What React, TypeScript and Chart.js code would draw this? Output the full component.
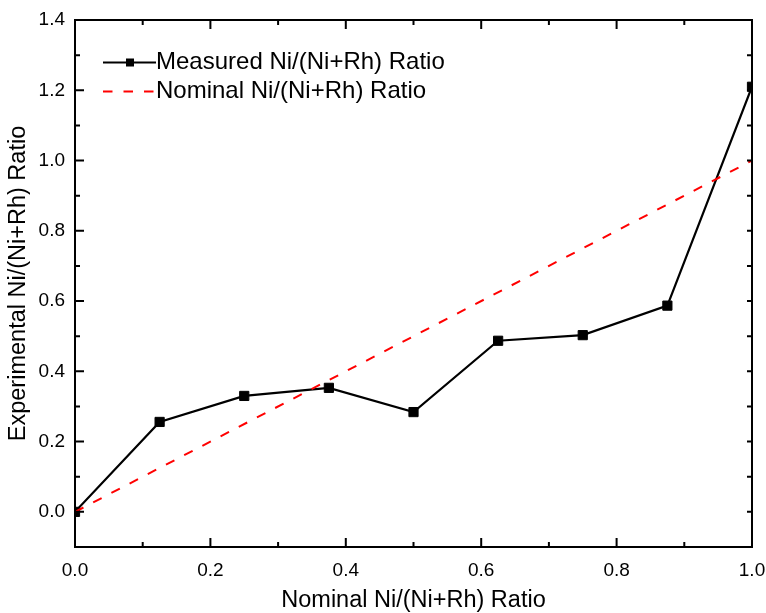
import React, { useEffect, useRef } from "react";
import { Chart, registerables } from "chart.js";

Chart.register(...registerables);

const measuredX = [0, 0.125, 0.25, 0.375, 0.5, 0.625, 0.75, 0.875, 1.0];
const measuredY = [0.0, 0.256, 0.33, 0.353, 0.284, 0.487, 0.503, 0.587, 1.21];
const nominalX = [0, 1];
const nominalY = [0, 1];
const xTickValues = [0, 0.2, 0.4, 0.6, 0.8, 1.0];
const yTickValues = [0, 0.2, 0.4, 0.6, 0.8, 1.0, 1.2, 1.4];
const seriesLabels = ["Measured Ni/(Ni+Rh) Ratio", "Nominal Ni/(Ni+Rh) Ratio"];
const xTitle = "Nominal Ni/(Ni+Rh) Ratio";
const yTitle = "Experimental Ni/(Ni+Rh) Ratio";

const FONT = "'Liberation Sans', Arial, sans-serif";

const framePlugin = {
  id: "frameTicks",
  afterDraw(chart: any) {
    const { ctx, chartArea, scales } = chart;
    const { left, right, top, bottom } = chartArea;
    const xs = scales.x;
    const ys = scales.y;
    ctx.save();
    ctx.strokeStyle = "#000";
    ctx.lineWidth = 2;
    ctx.beginPath();
    for (let i = 0; i <= 10; i++) {
      const px = xs.getPixelForValue(i / 10);
      const len = i % 2 === 0 ? 9 : 5;
      ctx.moveTo(px, bottom);
      ctx.lineTo(px, bottom - len);
      ctx.moveTo(px, top);
      ctx.lineTo(px, top + len);
    }
    for (let i = -1; i <= 14; i++) {
      const py = ys.getPixelForValue(i / 10);
      const len = i % 2 === 0 ? 9 : 5;
      ctx.moveTo(left, py);
      ctx.lineTo(left + len, py);
      ctx.moveTo(right, py);
      ctx.lineTo(right - 5, py);
    }
    ctx.stroke();
    ctx.beginPath();
    ctx.rect(left, top, right - left, bottom - top);
    ctx.stroke();

    // legend
    const x0 = 103;
    const x1 = 156;
    const rows = [62.5, 91.5];
    ctx.lineWidth = 2;
    ctx.strokeStyle = "#000";
    ctx.beginPath();
    ctx.moveTo(x0, rows[0]);
    ctx.lineTo(x1, rows[0]);
    ctx.stroke();
    ctx.fillStyle = "#000";
    ctx.fillRect(126, rows[0] - 4, 8, 8);
    ctx.strokeStyle = "#ff0000";
    ctx.setLineDash([9.5, 11]);
    ctx.beginPath();
    ctx.moveTo(x0, rows[1]);
    ctx.lineTo(x1, rows[1]);
    ctx.stroke();
    ctx.setLineDash([]);
    ctx.fillStyle = "#000";
    ctx.font = `24px ${FONT}`;
    ctx.textBaseline = "middle";
    ctx.textAlign = "left";
    ctx.fillText(seriesLabels[0], 156, rows[0]);
    ctx.fillText(seriesLabels[1], 156, rows[1]);
    ctx.restore();
  },
};

export default function App() {
  const ref = useRef<HTMLCanvasElement | null>(null);
  useEffect(() => {
    document.body.style.margin = "0";
    Chart.defaults.font.family = FONT;
    const canvas = ref.current!;
    const chart = new Chart(canvas, {
      type: "line",
      data: {
        datasets: [
          {
            label: seriesLabels[1],
            data: nominalX.map((x, i) => ({ x, y: nominalY[i] })),
            borderColor: "#ff0000",
            borderWidth: 2,
            borderDash: [9.5, 11],
            pointRadius: 0,
            fill: false,
            order: 0,
          },
          {
            label: seriesLabels[0],
            data: measuredX.map((x, i) => ({ x, y: measuredY[i] })),
            borderColor: "#000",
            backgroundColor: "#000",
            borderWidth: 2.2,
            pointStyle: "rect",
            pointRadius: 6.5,
            pointBorderWidth: 1,
            pointBackgroundColor: "#000",
            pointBorderColor: "#000",
            fill: false,
            order: 1,
          },
        ],
      },
      options: {
        responsive: false,
        animation: false,
        devicePixelRatio: 1,
        layout: { padding: { top: 20, right: 14, left: 0, bottom: 0 } },
        plugins: { legend: { display: false }, tooltip: { enabled: false } },
        scales: {
          x: {
            type: "linear",
            min: 0,
            max: 1,
            grid: { display: false, drawTicks: false },
            border: { display: false },
            afterBuildTicks: (s: any) => {
              s.ticks = xTickValues.map((v) => ({ value: v }));
            },
            afterFit: (s: any) => {
              s.height = 66;
              s.paddingLeft = 0;
              s.paddingRight = 0;
            },
            ticks: {
              padding: 12,
              color: "#000",
              font: { size: 19, family: FONT },
              callback: (v: any) => Number(v).toFixed(1),
              maxRotation: 0,
            },
            title: {
              display: true,
              text: xTitle,
              color: "#000",
              font: { size: 23.5, family: FONT, lineHeight: 1 },
              padding: { top: 0, bottom: 1 },
            },
          },
          y: {
            type: "linear",
            min: -0.1,
            max: 1.4,
            grid: { display: false, drawTicks: false },
            border: { display: false },
            afterBuildTicks: (s: any) => {
              s.ticks = yTickValues.map((v) => ({ value: v }));
            },
            afterFit: (s: any) => {
              s.width = 75;
              s.paddingTop = 0;
              s.paddingBottom = 0;
            },
            ticks: {
              padding: 10,
              color: "#000",
              font: { size: 19, family: FONT },
              callback: (v: any) => Number(v).toFixed(1),
            },
            title: {
              display: true,
              text: yTitle,
              color: "#000",
              font: { size: 23.5, family: FONT, lineHeight: 1 },
              padding: { top: 7, bottom: 0 },
            },
          },
        },
      },
      plugins: [framePlugin],
    });
    return () => chart.destroy();
  }, []);
  return (
    <div style={{ width: 766, height: 613 }}>
      <canvas ref={ref} width={766} height={613} />
    </div>
  );
}
